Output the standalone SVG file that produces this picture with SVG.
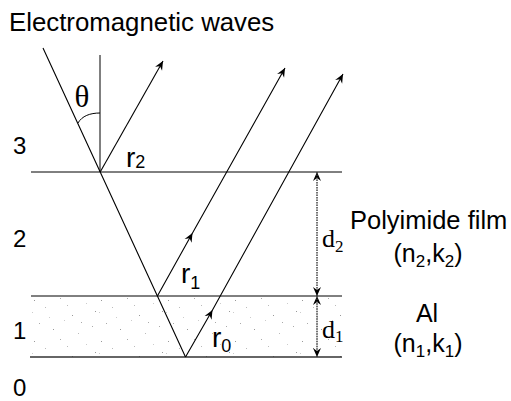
<svg xmlns="http://www.w3.org/2000/svg" width="511" height="401" viewBox="0 0 511 401">
  <style>
    .ln { stroke: #000; stroke-width: 1; fill: none; }
    .ray { stroke: #000; stroke-width: 1.1; fill: none; }
    .sans { font-family: "Liberation Sans", Arial, sans-serif; fill: #000; }
    .serif { font-family: "Liberation Serif", "Times New Roman", serif; fill: #000; }
    .dim { stroke: #444; stroke-width: 1; fill: none; stroke-dasharray: 1.5 1; }
  </style>
  <defs>
    <marker id="ah" markerWidth="12" markerHeight="10" viewBox="-10 -5 12 10" refX="0" refY="0" orient="auto" markerUnits="userSpaceOnUse">
      <path d="M0,0 L-9,-4 L-6,0 L-9,4 Z" fill="#000"/>
    </marker>
    <pattern id="speck" x="31" y="296" width="67" height="41" patternUnits="userSpaceOnUse">
      <rect x="3" y="4" width="1" height="1" fill="#999"/>
      <rect x="14" y="11" width="1" height="1" fill="#bbb"/>
      <rect x="29" y="2" width="1" height="1" fill="#aaa"/>
      <rect x="41" y="19" width="1" height="1" fill="#999"/>
      <rect x="55" y="7" width="1" height="1" fill="#ccc"/>
      <rect x="8" y="27" width="1" height="1" fill="#aaa"/>
      <rect x="22" y="33" width="1" height="1" fill="#999"/>
      <rect x="33" y="24" width="1" height="1" fill="#ccc"/>
      <rect x="61" y="30" width="1" height="1" fill="#aaa"/>
      <rect x="47" y="37" width="1" height="1" fill="#bbb"/>
      <rect x="1" y="16" width="1" height="1" fill="#ccc"/>
      <rect x="64" y="15" width="1" height="1" fill="#999"/>
      <rect x="36" y="9" width="1" height="1" fill="#bbb"/>
      <rect x="50" y="26" width="1" height="1" fill="#aaa"/>
      <rect x="18" y="21" width="1" height="1" fill="#ccc"/>
    </pattern>
  </defs>

  <g id="title">
    <text class="sans" x="9" y="31" font-size="25.8">Electromagnetic waves</text>
  </g>

  <g id="layer-al">
    <rect x="31" y="296" width="311" height="61" fill="url(#speck)"/>
  </g>

  <g id="interfaces">
    <line class="ln" x1="31" y1="172" x2="342" y2="172"/>
    <line class="ln" x1="31" y1="296" x2="342" y2="296"/>
    <line x1="30" y1="357" x2="342" y2="357" stroke="#333" stroke-width="1.6"/>
  </g>

  <g id="layer-labels">
    <text class="sans" x="13" y="154" font-size="24">3</text>
    <text class="sans" x="13" y="247" font-size="24">2</text>
    <text class="sans" x="13" y="339" font-size="24">1</text>
    <text class="sans" x="13" y="396" font-size="24">0</text>
  </g>

  <g id="normal">
    <line class="ln" x1="100" y1="55" x2="100" y2="172"/>
    <path class="ln" d="M100,113 C90,113 82,116 78,123"/>
    <text class="serif" x="82" y="107" font-size="31" text-anchor="middle">θ</text>
  </g>

  <g id="connectors">
    <path class="ray" d="M43,48 L100.2,172 L157.4,296 L185.5,357"/>
    <path class="ray" d="M100.2,172 L163,61" marker-end="url(#ah)"/>
    <path class="ray" d="M157.4,296 L192.5,233 L285,68" marker-mid="url(#ah)" marker-end="url(#ah)"/>
    <path class="ray" d="M185.5,357 L212.5,310 L343,74" marker-mid="url(#ah)" marker-end="url(#ah)"/>
    <path class="dim" d="M317,296 L317,172" marker-end="url(#ah)"/>
    <path class="dim" d="M317,172 L317,296" marker-end="url(#ah)"/>
    <path class="dim" d="M317,357 L317,296" marker-end="url(#ah)"/>
    <path class="dim" d="M317,296 L317,357" marker-end="url(#ah)"/>
  </g>

  <g id="ray-labels">
    <text class="sans" x="126" y="167" font-size="28">r<tspan font-size="18" dy="1">2</tspan></text>
    <text class="sans" x="181" y="283" font-size="28">r<tspan font-size="18" dy="6">1</tspan></text>
    <text class="sans" x="212" y="347" font-size="28">r<tspan font-size="18" dy="5">0</tspan></text>
  </g>

  <g id="dim-labels">
    <text class="serif" x="322" y="247" font-size="26">d<tspan font-size="17" dy="5">2</tspan></text>
    <text class="serif" x="322" y="338" font-size="26">d<tspan font-size="17" dy="4">1</tspan></text>
  </g>

  <g id="polyimide">
    <text class="sans" x="350" y="229" font-size="25.5">Polyimide film</text>
    <text class="sans" x="428" y="262" font-size="25" text-anchor="middle">(n<tspan font-size="17" dy="5">2</tspan><tspan dy="-5">,k</tspan><tspan font-size="17" dy="5">2</tspan><tspan dy="-5">)</tspan></text>
  </g>

  <g id="aluminium">
    <text class="sans" x="427" y="322" font-size="25" text-anchor="middle">Al</text>
    <text class="sans" x="428" y="352" font-size="25" text-anchor="middle">(n<tspan font-size="17" dy="5">1</tspan><tspan dy="-5">,k</tspan><tspan font-size="17" dy="5">1</tspan><tspan dy="-5">)</tspan></text>
  </g>
</svg>
